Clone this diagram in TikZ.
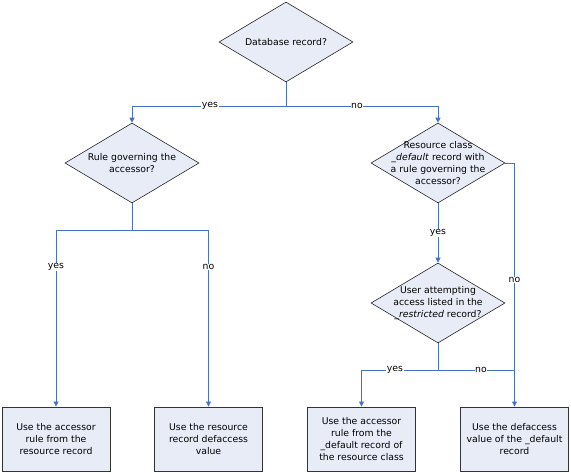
\documentclass[tikz,border=0pt]{standalone}
\usepackage{fontspec}
\setmainfont{DejaVu Sans}
\usetikzlibrary{shapes.geometric,arrows.meta}
\definecolor{flow}{RGB}{70,114,196}
\definecolor{boxfill}{RGB}{231,236,247}
\tikzset{
  dia/.style={diamond, draw=black!85, line width=0.6pt, fill=boxfill, minimum width=134pt, minimum height=80pt, inner sep=0pt},
  dtext/.style={align=center, font=\fontsize{9.3}{12.3}\selectfont, inner sep=0pt},
  outbox/.style={rectangle, draw=black!80, line width=0.9pt, fill=boxfill, minimum width=108pt, minimum height=64pt, align=center, font=\fontsize{9.3}{12.3}\selectfont, inner sep=1pt},
  conn/.style={draw=flow, line width=0.8pt},
  arr/.style={conn, -{Triangle[length=5pt,width=5pt]}},
  lbl/.style={fill=white, inner sep=0.5pt, font=\fontsize{9.3}{11}\selectfont}
}
\begin{document}
\begin{tikzpicture}[x=1pt,y=-1pt]
\useasboundingbox (0,0) rectangle (571,472);
\node[dia, label={[dtext]center:Database record?}] (d1) at (286,42) {};
\node[dia, label={[dtext]center:Rule governing the\\accessor?}] (d2) at (132,163) {};
\node[dia, label={[dtext]center:Resource class\\\_\textit{default} record with\\a rule governing the\\accessor?}] (d3) at (438,163) {};
\node[dia, label={[dtext]center:User attempting\\access listed in the\\\_\textit{restricted} record?}] (d4) at (438,303) {};
\node[outbox] (b1) at (56,439) {Use the accessor\\rule from the\\resource record};
\node[outbox] (b2) at (208.5,439) {Use the resource\\record defaccess\\value};
\node[outbox] (b3) at (361.5,439) {Use the accessor\\rule from the\\\_default record of\\the resource class};
\node[outbox] (b4) at (514.5,439) {Use the defaccess\\value of the \_default\\record};
\coordinate (j1) at (286,106);
\coordinate (j2) at (132,230);
\coordinate (j4) at (438,370);
\coordinate (j5) at (514.5,370);
\draw[conn] (d1.south) -- (j1);
\draw[arr] (j1) -| (d2.north);
\draw[arr] (j1) -| (d3.north);
\draw[conn] (d2.south) -- (j2);
\draw[arr] (j2) -| (b1.north);
\draw[arr] (j2) -| (b2.north);
\draw[arr] (d3.south) -- (d4.north);
\draw[arr] (d3.east) -| (b4.north);
\draw[conn] (d4.south) -- (j4);
\draw[arr] (j4) -| (b3.north);
\draw[conn] (j4) -- (j5);
\node[lbl] (l1) at (210,106) {yes};
\node[lbl] (l2) at (357,106) {no};
\node[lbl] (l3) at (56,267) {yes};
\node[lbl] (l4) at (208.5,267) {no};
\node[lbl] (l5) at (438,233) {yes};
\node[lbl] (l6) at (514.5,280) {no};
\node[lbl] (l7) at (395,370) {yes};
\node[lbl] (l8) at (481,370) {no};
\end{tikzpicture}
\end{document}
